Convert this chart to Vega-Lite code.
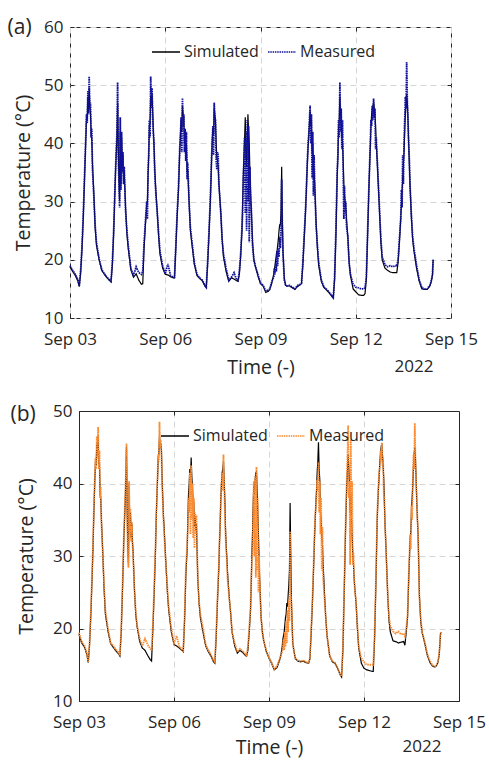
{
  "$schema": "https://vega.github.io/schema/vega-lite/v6.json",
  "background": "white",
  "padding": {"left": 7, "right": 2, "top": 16, "bottom": 7},
  "config": {
    "font": "Open Sans",
    "view": {"stroke": "#262626", "strokeWidth": 1},
    "axis": {
      "labelFont": "Open Sans", "labelFontSize": 17, "labelColor": "#262626", "labelFlush": false,
      "titleFont": "Open Sans", "titleFontSize": 19.5, "titleFontWeight": "normal", "titleColor": "#262626",
      "domain": false, "domainColor": "#262626", "tickColor": "#262626", "tickSize": -4,
      "gridColor": "#d6d6d6", "gridDash": [6, 4], "gridWidth": 1
    },
    "legend": {"labelFont": "Open Sans", "labelFontSize": 16, "labelColor": "#262626"},
    "concat": {"spacing": 25}
  },
  "resolve": {"scale": {"color": "independent", "strokeDash": "independent"}},
  "datasets": {
    "temps": [
      {"time":"2022-09-03T00:00","simA":18.8,"measA":19.0,"simB":19.2,"measB":19.4},
      {"time":"2022-09-03T02:00","simA":18.0,"measA":18.2,"simB":18.0,"measB":18.2},
      {"time":"2022-09-03T04:00","simA":17.3,"measA":17.5,"simB":17.5,"measB":17.7},
      {"time":"2022-09-03T06:00","simA":16.3,"measA":16.6,"simB":16.4,"measB":16.6},
      {"time":"2022-09-03T07:00","simA":15.4,"measA":15.5,"simB":15.3,"measB":15.4},
      {"time":"2022-09-03T08:00","simA":17.6,"measA":18.0,"simB":17.8,"measB":18.0},
      {"time":"2022-09-03T09:00","simA":21.5,"measA":22.0,"simB":22.0,"measB":22.5},
      {"time":"2022-09-03T10:00","simA":27.0,"measA":27.5,"simB":27.5,"measB":28.0},
      {"time":"2022-09-03T10:30","simA":30.5,"measA":31.0,"simB":30.5,"measB":31.0},
      {"time":"2022-09-03T11:00","simA":34.0,"measA":34.5,"simB":34.0,"measB":35.0},
      {"time":"2022-09-03T11:30","simA":37.5,"measA":38.0,"simB":37.5,"measB":38.0},
      {"time":"2022-09-03T12:00","simA":41.0,"measA":41.5,"simB":40.5,"measB":41.0},
      {"time":"2022-09-03T12:30","simA":44.5,"measA":45.0,"simB":43.0,"measB":43.5},
      {"time":"2022-09-03T13:00","simA":44.0,"measA":43.5,"simB":42.5,"measB":42.0},
      {"time":"2022-09-03T13:30","simA":48.0,"measA":49.0,"simB":45.5,"measB":46.5},
      {"time":"2022-09-03T14:00","simA":45.5,"measA":45.0,"simB":44.0,"measB":43.5},
      {"time":"2022-09-03T14:30","simA":49.5,"measA":51.5,"simB":46.5,"measB":47.8},
      {"time":"2022-09-03T15:00","simA":46.5,"measA":46.0,"simB":42.5,"measB":42.0},
      {"time":"2022-09-03T15:30","simA":45.0,"measA":47.0,"simB":43.0,"measB":44.5},
      {"time":"2022-09-03T16:00","simA":41.5,"measA":41.0,"simB":38.5,"measB":38.0},
      {"time":"2022-09-03T16:30","simA":40.5,"measA":42.5,"simB":38.0,"measB":39.5},
      {"time":"2022-09-03T17:00","simA":36.5,"measA":35.5,"simB":35.0,"measB":34.5},
      {"time":"2022-09-03T18:00","simA":31.5,"measA":31.0,"simB":30.5,"measB":30.5},
      {"time":"2022-09-03T19:00","simA":25.5,"measA":26.0,"simB":25.5,"measB":26.0},
      {"time":"2022-09-03T20:00","simA":22.5,"measA":23.0,"simB":22.0,"measB":22.5},
      {"time":"2022-09-03T22:00","simA":20.0,"measA":20.2,"simB":19.6,"measB":20.0},
      {"time":"2022-09-04T00:00","simA":18.2,"measA":18.3,"simB":17.9,"measB":18.0},
      {"time":"2022-09-04T02:00","simA":17.5,"measA":17.6,"simB":17.4,"measB":17.6},
      {"time":"2022-09-04T04:00","simA":16.9,"measA":17.0,"simB":16.9,"measB":17.1},
      {"time":"2022-09-04T06:00","simA":16.4,"measA":16.5,"simB":16.5,"measB":16.7},
      {"time":"2022-09-04T07:00","simA":16.2,"measA":16.3,"simB":16.2,"measB":16.3},
      {"time":"2022-09-04T08:00","simA":19.0,"measA":19.5,"simB":19.5,"measB":20.0},
      {"time":"2022-09-04T09:00","simA":24.5,"measA":25.0,"simB":25.5,"measB":26.0},
      {"time":"2022-09-04T10:00","simA":32.0,"measA":32.5,"simB":32.5,"measB":33.0},
      {"time":"2022-09-04T10:30","simA":35.5,"measA":36.0,"simB":35.0,"measB":35.5},
      {"time":"2022-09-04T11:00","simA":38.5,"measA":39.0,"simB":37.5,"measB":38.0},
      {"time":"2022-09-04T11:30","simA":41.0,"measA":42.0,"simB":40.5,"measB":41.0},
      {"time":"2022-09-04T12:00","simA":47.0,"measA":50.5,"simB":45.0,"measB":45.5},
      {"time":"2022-09-04T12:30","simA":39.0,"measA":38.0,"simB":36.5,"measB":36.0},
      {"time":"2022-09-04T13:00","simA":34.0,"measA":33.0,"simB":31.0,"measB":30.0},
      {"time":"2022-09-04T13:30","simA":30.0,"measA":29.0,"simB":29.0,"measB":28.4},
      {"time":"2022-09-04T14:00","simA":42.0,"measA":44.5,"simB":40.0,"measB":40.3},
      {"time":"2022-09-04T14:30","simA":33.0,"measA":32.0,"simB":33.5,"measB":33.3},
      {"time":"2022-09-04T15:00","simA":41.0,"measA":42.0,"simB":36.0,"measB":36.5},
      {"time":"2022-09-04T15:30","simA":36.0,"measA":35.0,"simB":32.5,"measB":32.0},
      {"time":"2022-09-04T16:00","simA":38.0,"measA":38.5,"simB":34.5,"measB":34.7},
      {"time":"2022-09-04T16:30","simA":33.5,"measA":33.0,"simB":32.0,"measB":32.0},
      {"time":"2022-09-04T17:00","simA":35.0,"measA":36.0,"simB":30.5,"measB":30.0},
      {"time":"2022-09-04T18:00","simA":29.0,"measA":28.5,"simB":25.5,"measB":25.5},
      {"time":"2022-09-04T19:00","simA":24.5,"measA":25.0,"simB":22.0,"measB":22.5},
      {"time":"2022-09-04T20:00","simA":22.0,"measA":22.5,"simB":20.3,"measB":20.5},
      {"time":"2022-09-04T22:00","simA":18.3,"measA":18.5,"simB":18.2,"measB":18.6},
      {"time":"2022-09-05T00:00","simA":17.0,"measA":17.3,"simB":17.3,"measB":17.6},
      {"time":"2022-09-05T02:00","simA":17.6,"measA":18.8,"simB":17.0,"measB":18.6},
      {"time":"2022-09-05T04:00","simA":16.5,"measA":17.8,"simB":16.3,"measB":17.8},
      {"time":"2022-09-05T06:00","simA":15.8,"measA":17.5,"simB":15.7,"measB":17.2},
      {"time":"2022-09-05T07:00","simA":15.9,"measA":18.0,"simB":15.5,"measB":17.0},
      {"time":"2022-09-05T08:00","simA":22.0,"measA":23.0,"simB":20.0,"measB":20.5},
      {"time":"2022-09-05T09:00","simA":26.0,"measA":26.5,"simB":25.0,"measB":26.0},
      {"time":"2022-09-05T10:00","simA":29.5,"measA":30.0,"simB":31.0,"measB":31.5},
      {"time":"2022-09-05T10:30","simA":30.0,"measA":27.0,"simB":35.0,"measB":35.5},
      {"time":"2022-09-05T11:00","simA":34.5,"measA":35.0,"simB":38.0,"measB":38.0},
      {"time":"2022-09-05T11:30","simA":38.0,"measA":38.0,"simB":40.5,"measB":41.0},
      {"time":"2022-09-05T12:00","simA":43.0,"measA":44.0,"simB":43.5,"measB":44.0},
      {"time":"2022-09-05T12:30","simA":43.5,"measA":41.0,"simB":44.0,"measB":43.0},
      {"time":"2022-09-05T13:00","simA":48.0,"measA":51.5,"simB":46.5,"measB":48.5},
      {"time":"2022-09-05T13:30","simA":47.0,"measA":46.0,"simB":45.0,"measB":45.0},
      {"time":"2022-09-05T14:00","simA":48.5,"measA":49.5,"simB":45.5,"measB":46.0},
      {"time":"2022-09-05T14:30","simA":45.5,"measA":45.0,"simB":44.5,"measB":44.0},
      {"time":"2022-09-05T15:00","simA":42.0,"measA":42.0,"simB":40.5,"measB":40.0},
      {"time":"2022-09-05T15:30","simA":39.5,"measA":40.0,"simB":38.0,"measB":37.5},
      {"time":"2022-09-05T16:00","simA":36.0,"measA":35.5,"simB":35.5,"measB":35.0},
      {"time":"2022-09-05T16:30","simA":33.5,"measA":33.0,"simB":34.0,"measB":33.3},
      {"time":"2022-09-05T17:00","simA":31.5,"measA":31.0,"simB":32.0,"measB":31.5},
      {"time":"2022-09-05T18:00","simA":28.0,"measA":28.0,"simB":28.5,"measB":28.5},
      {"time":"2022-09-05T19:00","simA":24.0,"measA":24.5,"simB":25.0,"measB":25.5},
      {"time":"2022-09-05T20:00","simA":21.0,"measA":21.5,"simB":22.5,"measB":23.0},
      {"time":"2022-09-05T22:00","simA":18.6,"measA":19.0,"simB":19.5,"measB":20.0},
      {"time":"2022-09-06T00:00","simA":17.5,"measA":17.6,"simB":17.8,"measB":18.0},
      {"time":"2022-09-06T02:00","simA":17.4,"measA":19.3,"simB":17.6,"measB":19.0},
      {"time":"2022-09-06T04:00","simA":17.1,"measA":17.3,"simB":17.3,"measB":17.5},
      {"time":"2022-09-06T06:00","simA":16.9,"measA":17.0,"simB":17.0,"measB":17.2},
      {"time":"2022-09-06T07:00","simA":16.9,"measA":17.0,"simB":16.8,"measB":16.8},
      {"time":"2022-09-06T08:00","simA":22.0,"measA":22.5,"simB":21.0,"measB":21.5},
      {"time":"2022-09-06T09:00","simA":27.5,"measA":28.0,"simB":27.5,"measB":28.5},
      {"time":"2022-09-06T10:00","simA":32.0,"measA":32.5,"simB":31.0,"measB":31.5},
      {"time":"2022-09-06T10:30","simA":35.5,"measA":36.0,"simB":35.0,"measB":34.0},
      {"time":"2022-09-06T11:00","simA":39.0,"measA":39.5,"simB":38.5,"measB":38.0},
      {"time":"2022-09-06T11:30","simA":41.5,"measA":41.5,"simB":40.0,"measB":36.0},
      {"time":"2022-09-06T12:00","simA":44.0,"measA":44.5,"simB":42.0,"measB":41.5},
      {"time":"2022-09-06T12:30","simA":42.0,"measA":38.5,"simB":40.5,"measB":33.0},
      {"time":"2022-09-06T13:00","simA":46.5,"measA":47.8,"simB":43.6,"measB":42.5},
      {"time":"2022-09-06T13:30","simA":45.0,"measA":43.0,"simB":41.0,"measB":35.0},
      {"time":"2022-09-06T14:00","simA":44.5,"measA":45.0,"simB":39.5,"measB":40.0},
      {"time":"2022-09-06T14:30","simA":40.0,"measA":38.5,"simB":37.0,"measB":32.5},
      {"time":"2022-09-06T15:00","simA":41.5,"measA":42.5,"simB":37.5,"measB":38.0},
      {"time":"2022-09-06T15:30","simA":38.5,"measA":37.0,"simB":34.0,"measB":31.1},
      {"time":"2022-09-06T16:00","simA":40.0,"measA":42.0,"simB":35.5,"measB":36.0},
      {"time":"2022-09-06T16:30","simA":35.0,"measA":33.8,"simB":33.5,"measB":33.0},
      {"time":"2022-09-06T17:00","simA":35.5,"measA":36.7,"simB":34.5,"measB":35.7},
      {"time":"2022-09-06T18:00","simA":30.0,"measA":30.0,"simB":27.0,"measB":27.0},
      {"time":"2022-09-06T19:00","simA":25.0,"measA":25.5,"simB":23.5,"measB":23.7},
      {"time":"2022-09-06T20:00","simA":23.0,"measA":23.5,"simB":21.5,"measB":22.0},
      {"time":"2022-09-06T22:00","simA":19.2,"measA":19.5,"simB":19.5,"measB":20.0},
      {"time":"2022-09-07T00:00","simA":17.3,"measA":17.5,"simB":17.6,"measB":17.8},
      {"time":"2022-09-07T02:00","simA":16.8,"measA":16.9,"simB":16.8,"measB":17.0},
      {"time":"2022-09-07T04:00","simA":16.4,"measA":16.5,"simB":16.2,"measB":16.4},
      {"time":"2022-09-07T06:00","simA":15.5,"measA":15.6,"simB":15.4,"measB":15.6},
      {"time":"2022-09-07T07:00","simA":15.2,"measA":15.3,"simB":15.2,"measB":15.4},
      {"time":"2022-09-07T08:00","simA":19.0,"measA":19.5,"simB":19.0,"measB":19.5},
      {"time":"2022-09-07T09:00","simA":24.0,"measA":24.5,"simB":24.0,"measB":24.5},
      {"time":"2022-09-07T10:00","simA":29.5,"measA":30.0,"simB":28.5,"measB":28.8},
      {"time":"2022-09-07T10:30","simA":33.0,"measA":33.5,"simB":32.0,"measB":32.0},
      {"time":"2022-09-07T11:00","simA":37.0,"measA":37.5,"simB":34.5,"measB":34.5},
      {"time":"2022-09-07T11:30","simA":40.5,"measA":40.0,"simB":38.0,"measB":38.0},
      {"time":"2022-09-07T12:00","simA":42.5,"measA":43.0,"simB":40.0,"measB":40.0},
      {"time":"2022-09-07T12:30","simA":41.5,"measA":38.0,"simB":41.5,"measB":41.5},
      {"time":"2022-09-07T13:00","simA":46.0,"measA":47.0,"simB":42.0,"measB":39.0},
      {"time":"2022-09-07T13:30","simA":45.0,"measA":44.5,"simB":43.0,"measB":44.0},
      {"time":"2022-09-07T14:00","simA":43.5,"measA":44.0,"simB":40.5,"measB":40.0},
      {"time":"2022-09-07T14:30","simA":40.0,"measA":37.0,"simB":38.0,"measB":36.5},
      {"time":"2022-09-07T15:00","simA":37.5,"measA":35.5,"simB":34.0,"measB":33.0},
      {"time":"2022-09-07T15:30","simA":37.0,"measA":38.5,"simB":31.5,"measB":31.0},
      {"time":"2022-09-07T16:00","simA":36.0,"measA":38.0,"simB":30.0,"measB":29.5},
      {"time":"2022-09-07T16:30","simA":33.5,"measA":33.0,"simB":28.0,"measB":27.0},
      {"time":"2022-09-07T17:00","simA":31.5,"measA":31.5,"simB":26.5,"measB":26.0},
      {"time":"2022-09-07T18:00","simA":28.0,"measA":28.0,"simB":24.0,"measB":24.0},
      {"time":"2022-09-07T19:00","simA":23.5,"measA":23.5,"simB":22.0,"measB":22.0},
      {"time":"2022-09-07T20:00","simA":20.5,"measA":21.0,"simB":19.5,"measB":19.5},
      {"time":"2022-09-07T22:00","simA":18.0,"measA":18.5,"simB":17.6,"measB":18.0},
      {"time":"2022-09-08T00:00","simA":16.3,"measA":16.5,"simB":16.6,"measB":16.8},
      {"time":"2022-09-08T02:00","simA":16.9,"measA":17.0,"simB":17.0,"measB":17.2},
      {"time":"2022-09-08T04:00","simA":16.7,"measA":17.8,"simB":16.7,"measB":16.9},
      {"time":"2022-09-08T06:00","simA":16.4,"measA":16.5,"simB":16.3,"measB":16.5},
      {"time":"2022-09-08T07:00","simA":16.3,"measA":16.4,"simB":16.2,"measB":16.3},
      {"time":"2022-09-08T08:00","simA":17.5,"measA":18.0,"simB":17.0,"measB":17.5},
      {"time":"2022-09-08T09:00","simA":20.5,"measA":21.0,"simB":19.5,"measB":20.0},
      {"time":"2022-09-08T10:00","simA":25.0,"measA":25.5,"simB":22.5,"measB":23.0},
      {"time":"2022-09-08T10:30","simA":30.0,"measA":28.0,"simB":26.0,"measB":26.0},
      {"time":"2022-09-08T11:00","simA":34.5,"measA":34.0,"simB":30.0,"measB":29.0},
      {"time":"2022-09-08T11:30","simA":38.0,"measA":37.0,"simB":33.0,"measB":31.0},
      {"time":"2022-09-08T12:00","simA":41.0,"measA":41.0,"simB":37.0,"measB":36.0},
      {"time":"2022-09-08T12:30","simA":44.5,"measA":28.0,"simB":40.0,"measB":40.3},
      {"time":"2022-09-08T13:00","simA":38.0,"measA":42.0,"simB":38.5,"measB":30.0},
      {"time":"2022-09-08T13:30","simA":36.0,"measA":25.0,"simB":40.5,"measB":41.0},
      {"time":"2022-09-08T14:00","simA":40.0,"measA":44.0,"simB":41.5,"measB":27.0},
      {"time":"2022-09-08T14:30","simA":45.0,"measA":30.0,"simB":41.6,"measB":42.3},
      {"time":"2022-09-08T15:00","simA":42.0,"measA":43.0,"simB":39.0,"measB":28.0},
      {"time":"2022-09-08T15:30","simA":40.0,"measA":23.0,"simB":36.0,"measB":38.0},
      {"time":"2022-09-08T16:00","simA":35.0,"measA":36.0,"simB":33.0,"measB":25.0},
      {"time":"2022-09-08T16:30","simA":32.0,"measA":30.0,"simB":29.0,"measB":30.0},
      {"time":"2022-09-08T17:00","simA":29.0,"measA":29.0,"simB":26.5,"measB":26.5},
      {"time":"2022-09-08T18:00","simA":23.0,"measA":22.4,"simB":21.5,"measB":21.5},
      {"time":"2022-09-08T19:00","simA":20.0,"measA":20.0,"simB":19.5,"measB":19.5},
      {"time":"2022-09-08T20:00","simA":19.0,"measA":19.0,"simB":18.3,"measB":18.3},
      {"time":"2022-09-08T22:00","simA":17.3,"measA":17.5,"simB":16.8,"measB":17.0},
      {"time":"2022-09-09T00:00","simA":15.9,"measA":16.0,"simB":15.9,"measB":16.0},
      {"time":"2022-09-09T02:00","simA":15.5,"measA":15.6,"simB":15.2,"measB":15.3},
      {"time":"2022-09-09T04:00","simA":14.4,"measA":14.6,"simB":14.3,"measB":14.4},
      {"time":"2022-09-09T06:00","simA":14.6,"measA":14.8,"simB":14.6,"measB":14.8},
      {"time":"2022-09-09T07:00","simA":14.9,"measA":15.0,"simB":15.1,"measB":15.3},
      {"time":"2022-09-09T08:00","simA":15.6,"measA":15.8,"simB":15.6,"measB":15.8},
      {"time":"2022-09-09T09:00","simA":16.5,"measA":16.5,"simB":16.3,"measB":16.3},
      {"time":"2022-09-09T10:00","simA":17.5,"measA":17.0,"simB":17.5,"measB":16.8},
      {"time":"2022-09-09T10:30","simA":18.5,"measA":18.5,"simB":18.5,"measB":17.5},
      {"time":"2022-09-09T11:00","simA":19.0,"measA":17.5,"simB":19.0,"measB":18.5},
      {"time":"2022-09-09T11:30","simA":20.0,"measA":19.5,"simB":19.5,"measB":17.0},
      {"time":"2022-09-09T12:00","simA":21.0,"measA":18.0,"simB":20.5,"measB":19.5},
      {"time":"2022-09-09T12:30","simA":21.5,"measA":21.5,"simB":21.5,"measB":17.5},
      {"time":"2022-09-09T13:00","simA":22.5,"measA":19.0,"simB":22.0,"measB":21.0},
      {"time":"2022-09-09T13:30","simA":23.5,"measA":22.0,"simB":23.5,"measB":18.0},
      {"time":"2022-09-09T14:00","simA":25.0,"measA":20.5,"simB":23.0,"measB":22.5},
      {"time":"2022-09-09T14:30","simA":26.0,"measA":24.0,"simB":24.5,"measB":19.5},
      {"time":"2022-09-09T15:00","simA":26.0,"measA":22.0,"simB":26.0,"measB":24.0},
      {"time":"2022-09-09T15:30","simA":28.0,"measA":25.0,"simB":28.0,"measB":21.0},
      {"time":"2022-09-09T16:00","simA":36.0,"measA":33.8,"simB":37.3,"measB":33.4},
      {"time":"2022-09-09T16:30","simA":27.0,"measA":26.0,"simB":30.0,"measB":25.0},
      {"time":"2022-09-09T17:00","simA":21.5,"measA":21.0,"simB":23.7,"measB":23.7},
      {"time":"2022-09-09T18:00","simA":16.8,"measA":16.5,"simB":18.0,"measB":18.0},
      {"time":"2022-09-09T19:00","simA":15.6,"measA":15.6,"simB":16.8,"measB":16.8},
      {"time":"2022-09-09T20:00","simA":15.5,"measA":15.5,"simB":15.8,"measB":15.9},
      {"time":"2022-09-09T22:00","simA":15.5,"measA":15.6,"simB":15.5,"measB":15.6},
      {"time":"2022-09-10T00:00","simA":15.2,"measA":15.3,"simB":15.4,"measB":15.5},
      {"time":"2022-09-10T02:00","simA":14.9,"measA":15.0,"simB":15.5,"measB":15.6},
      {"time":"2022-09-10T04:00","simA":15.4,"measA":15.6,"simB":15.3,"measB":15.4},
      {"time":"2022-09-10T06:00","simA":15.7,"measA":15.8,"simB":15.2,"measB":15.3},
      {"time":"2022-09-10T07:00","simA":15.9,"measA":16.0,"simB":15.8,"measB":16.0},
      {"time":"2022-09-10T08:00","simA":19.0,"measA":19.5,"simB":19.5,"measB":20.0},
      {"time":"2022-09-10T09:00","simA":23.5,"measA":24.0,"simB":24.0,"measB":24.5},
      {"time":"2022-09-10T10:00","simA":28.0,"measA":28.5,"simB":29.5,"measB":30.0},
      {"time":"2022-09-10T10:30","simA":31.0,"measA":31.0,"simB":32.5,"measB":33.0},
      {"time":"2022-09-10T11:00","simA":34.0,"measA":34.5,"simB":35.0,"measB":35.5},
      {"time":"2022-09-10T11:30","simA":37.0,"measA":37.5,"simB":37.0,"measB":37.0},
      {"time":"2022-09-10T12:00","simA":39.5,"measA":40.0,"simB":39.0,"measB":38.0},
      {"time":"2022-09-10T12:30","simA":41.5,"measA":41.5,"simB":41.5,"measB":40.5},
      {"time":"2022-09-10T13:00","simA":43.5,"measA":44.0,"simB":43.0,"measB":39.0},
      {"time":"2022-09-10T13:30","simA":45.5,"measA":46.5,"simB":45.7,"measB":43.0},
      {"time":"2022-09-10T14:00","simA":43.0,"measA":40.0,"simB":42.0,"measB":36.0},
      {"time":"2022-09-10T14:30","simA":44.0,"measA":45.0,"simB":40.5,"measB":40.3},
      {"time":"2022-09-10T15:00","simA":38.4,"measA":34.0,"simB":36.0,"measB":33.0},
      {"time":"2022-09-10T15:30","simA":40.0,"measA":42.0,"simB":35.0,"measB":38.0},
      {"time":"2022-09-10T16:00","simA":36.0,"measA":31.0,"simB":33.0,"measB":28.0},
      {"time":"2022-09-10T16:30","simA":35.0,"measA":38.0,"simB":31.5,"measB":34.0},
      {"time":"2022-09-10T17:00","simA":33.0,"measA":32.7,"simB":29.0,"measB":27.0},
      {"time":"2022-09-10T18:00","simA":26.5,"measA":26.0,"simB":25.0,"measB":24.2},
      {"time":"2022-09-10T19:00","simA":22.0,"measA":22.5,"simB":21.5,"measB":21.5},
      {"time":"2022-09-10T20:00","simA":19.0,"measA":19.5,"simB":19.0,"measB":19.0},
      {"time":"2022-09-10T22:00","simA":16.3,"measA":16.5,"simB":16.2,"measB":16.3},
      {"time":"2022-09-11T00:00","simA":15.2,"measA":15.3,"simB":15.4,"measB":15.5},
      {"time":"2022-09-11T02:00","simA":14.8,"measA":14.9,"simB":15.2,"measB":15.3},
      {"time":"2022-09-11T04:00","simA":14.3,"measA":14.4,"simB":14.5,"measB":14.6},
      {"time":"2022-09-11T06:00","simA":13.7,"measA":13.8,"simB":13.6,"measB":13.7},
      {"time":"2022-09-11T07:00","simA":13.4,"measA":13.5,"simB":13.3,"measB":13.4},
      {"time":"2022-09-11T08:00","simA":16.5,"measA":17.0,"simB":17.0,"measB":17.3},
      {"time":"2022-09-11T09:00","simA":24.0,"measA":25.0,"simB":25.0,"measB":25.5},
      {"time":"2022-09-11T10:00","simA":34.5,"measA":35.5,"simB":33.5,"measB":34.0},
      {"time":"2022-09-11T10:30","simA":37.5,"measA":38.0,"simB":37.0,"measB":38.0},
      {"time":"2022-09-11T11:00","simA":42.5,"measA":44.0,"simB":40.0,"measB":41.0},
      {"time":"2022-09-11T11:30","simA":44.0,"measA":41.0,"simB":42.0,"measB":44.0},
      {"time":"2022-09-11T12:00","simA":48.0,"measA":50.5,"simB":44.0,"measB":48.0},
      {"time":"2022-09-11T12:30","simA":45.0,"measA":42.0,"simB":42.0,"measB":38.0},
      {"time":"2022-09-11T13:00","simA":44.5,"measA":46.0,"simB":40.0,"measB":40.3},
      {"time":"2022-09-11T13:30","simA":41.0,"measA":39.0,"simB":36.0,"measB":28.8},
      {"time":"2022-09-11T14:00","simA":40.0,"measA":44.0,"simB":38.5,"measB":46.0},
      {"time":"2022-09-11T14:30","simA":37.0,"measA":35.5,"simB":35.0,"measB":33.0},
      {"time":"2022-09-11T15:00","simA":33.0,"measA":27.0,"simB":33.0,"measB":40.3},
      {"time":"2022-09-11T15:30","simA":31.0,"measA":32.7,"simB":30.0,"measB":28.8},
      {"time":"2022-09-11T16:00","simA":30.0,"measA":28.0,"simB":29.0,"measB":30.5},
      {"time":"2022-09-11T16:30","simA":29.0,"measA":30.0,"simB":27.0,"measB":27.0},
      {"time":"2022-09-11T17:00","simA":27.0,"measA":25.8,"simB":25.6,"measB":25.6},
      {"time":"2022-09-11T18:00","simA":24.0,"measA":24.0,"simB":23.5,"measB":23.7},
      {"time":"2022-09-11T19:00","simA":19.5,"measA":19.5,"simB":20.0,"measB":20.5},
      {"time":"2022-09-11T20:00","simA":17.3,"measA":17.5,"simB":17.3,"measB":17.5},
      {"time":"2022-09-11T22:00","simA":15.0,"measA":15.8,"simB":15.2,"measB":15.9},
      {"time":"2022-09-12T00:00","simA":14.5,"measA":15.3,"simB":14.5,"measB":15.4},
      {"time":"2022-09-12T02:00","simA":14.0,"measA":15.2,"simB":14.3,"measB":15.0},
      {"time":"2022-09-12T04:00","simA":13.9,"measA":15.0,"simB":14.2,"measB":15.0},
      {"time":"2022-09-12T06:00","simA":13.9,"measA":15.0,"simB":14.1,"measB":15.0},
      {"time":"2022-09-12T07:00","simA":14.2,"measA":15.2,"simB":14.1,"measB":15.0},
      {"time":"2022-09-12T08:00","simA":16.6,"measA":17.0,"simB":18.5,"measB":19.0},
      {"time":"2022-09-12T09:00","simA":24.5,"measA":25.0,"simB":26.0,"measB":26.5},
      {"time":"2022-09-12T10:00","simA":32.7,"measA":33.0,"simB":35.0,"measB":35.5},
      {"time":"2022-09-12T10:30","simA":36.0,"measA":36.5,"simB":37.5,"measB":38.0},
      {"time":"2022-09-12T11:00","simA":39.5,"measA":40.0,"simB":39.5,"measB":40.0},
      {"time":"2022-09-12T11:30","simA":43.0,"measA":44.0,"simB":41.2,"measB":41.5},
      {"time":"2022-09-12T12:00","simA":45.0,"measA":43.0,"simB":43.0,"measB":42.0},
      {"time":"2022-09-12T12:30","simA":46.0,"measA":46.5,"simB":44.0,"measB":44.5},
      {"time":"2022-09-12T13:00","simA":46.5,"measA":44.0,"simB":45.0,"measB":43.0},
      {"time":"2022-09-12T13:30","simA":47.0,"measA":47.7,"simB":45.5,"measB":45.6},
      {"time":"2022-09-12T14:00","simA":46.0,"measA":44.5,"simB":44.0,"measB":42.5},
      {"time":"2022-09-12T14:30","simA":45.0,"measA":46.0,"simB":42.5,"measB":43.0},
      {"time":"2022-09-12T15:00","simA":43.0,"measA":39.0,"simB":40.5,"measB":38.5},
      {"time":"2022-09-12T15:30","simA":40.0,"measA":41.0,"simB":37.0,"measB":38.0},
      {"time":"2022-09-12T16:00","simA":38.0,"measA":38.4,"simB":34.0,"measB":34.0},
      {"time":"2022-09-12T16:30","simA":35.5,"measA":36.0,"simB":32.0,"measB":32.0},
      {"time":"2022-09-12T17:00","simA":33.0,"measA":33.5,"simB":29.5,"measB":29.5},
      {"time":"2022-09-12T18:00","simA":28.0,"measA":28.5,"simB":24.5,"measB":24.5},
      {"time":"2022-09-12T19:00","simA":23.0,"measA":23.5,"simB":21.0,"measB":21.5},
      {"time":"2022-09-12T20:00","simA":20.0,"measA":20.5,"simB":19.5,"measB":20.3},
      {"time":"2022-09-12T22:00","simA":18.6,"measA":19.2,"simB":18.3,"measB":19.6},
      {"time":"2022-09-13T00:00","simA":18.2,"measA":18.8,"simB":18.2,"measB":19.3},
      {"time":"2022-09-13T02:00","simA":17.9,"measA":19.0,"simB":18.0,"measB":19.6},
      {"time":"2022-09-13T04:00","simA":17.8,"measA":18.8,"simB":18.1,"measB":19.2},
      {"time":"2022-09-13T06:00","simA":17.8,"measA":19.0,"simB":18.2,"measB":19.3},
      {"time":"2022-09-13T07:00","simA":17.8,"measA":18.9,"simB":17.7,"measB":18.9},
      {"time":"2022-09-13T08:00","simA":19.5,"measA":20.0,"simB":19.5,"measB":20.0},
      {"time":"2022-09-13T09:00","simA":23.0,"measA":23.5,"simB":21.5,"measB":21.9},
      {"time":"2022-09-13T10:00","simA":27.0,"measA":27.0,"simB":27.5,"measB":28.0},
      {"time":"2022-09-13T10:30","simA":29.5,"measA":32.0,"simB":30.0,"measB":30.5},
      {"time":"2022-09-13T11:00","simA":31.5,"measA":29.0,"simB":32.5,"measB":33.0},
      {"time":"2022-09-13T11:30","simA":34.0,"measA":38.0,"simB":33.3,"measB":31.0},
      {"time":"2022-09-13T12:00","simA":36.5,"measA":33.0,"simB":36.5,"measB":37.0},
      {"time":"2022-09-13T12:30","simA":38.4,"measA":40.0,"simB":38.0,"measB":35.0},
      {"time":"2022-09-13T13:00","simA":42.0,"measA":44.0,"simB":40.0,"measB":40.3},
      {"time":"2022-09-13T13:30","simA":45.0,"measA":48.0,"simB":42.5,"measB":44.0},
      {"time":"2022-09-13T14:00","simA":46.5,"measA":46.0,"simB":44.0,"measB":42.0},
      {"time":"2022-09-13T14:30","simA":48.5,"measA":54.0,"simB":45.0,"measB":48.3},
      {"time":"2022-09-13T15:00","simA":47.0,"measA":47.0,"simB":43.5,"measB":43.0},
      {"time":"2022-09-13T15:30","simA":44.0,"measA":44.0,"simB":40.5,"measB":40.3},
      {"time":"2022-09-13T16:00","simA":40.0,"measA":40.0,"simB":37.5,"measB":38.0},
      {"time":"2022-09-13T16:30","simA":36.5,"measA":37.3,"simB":35.0,"measB":35.0},
      {"time":"2022-09-13T17:00","simA":33.0,"measA":33.0,"simB":33.0,"measB":33.3},
      {"time":"2022-09-13T18:00","simA":27.5,"measA":28.0,"simB":24.5,"measB":24.2},
      {"time":"2022-09-13T19:00","simA":23.5,"measA":24.0,"simB":21.0,"measB":21.5},
      {"time":"2022-09-13T20:00","simA":21.5,"measA":22.0,"simB":19.5,"measB":19.5},
      {"time":"2022-09-13T22:00","simA":18.5,"measA":19.0,"simB":18.0,"measB":18.2},
      {"time":"2022-09-14T00:00","simA":16.3,"measA":16.5,"simB":16.3,"measB":16.5},
      {"time":"2022-09-14T02:00","simA":15.0,"measA":15.2,"simB":15.3,"measB":15.5},
      {"time":"2022-09-14T04:00","simA":14.9,"measA":15.0,"simB":14.8,"measB":14.9},
      {"time":"2022-09-14T06:00","simA":14.9,"measA":15.0,"simB":14.7,"measB":14.8},
      {"time":"2022-09-14T07:00","simA":15.2,"measA":15.3,"simB":14.9,"measB":15.0},
      {"time":"2022-09-14T08:00","simA":15.5,"measA":15.6,"simB":15.3,"measB":15.4},
      {"time":"2022-09-14T09:00","simA":16.2,"measA":16.3,"simB":16.4,"measB":16.5},
      {"time":"2022-09-14T10:00","simA":17.3,"measA":17.5,"simB":19.3,"measB":19.3},
      {"time":"2022-09-14T10:30","simA":20.0,"measA":20.0,"simB":19.5,"measB":19.6}
    ]
  },
  "vconcat": [
    {
      "width": 381,
      "height": 291,
      "title": {"text": "(a)", "anchor": "start", "frame": "bounds", "fontSize": 21, "fontWeight": "normal", "color": "#262626", "offset": -20, "dx": -6},
      "data": {"name": "temps"},
      "layer": [
        {
          "mark": {"type": "line", "strokeWidth": 1.2},
          "encoding": {
            "x": {"field": "time", "type": "temporal",
              "scale": {"domain": [{"year": 2022, "month": "Sep", "date": 3}, {"year": 2022, "month": "Sep", "date": 15}]},
              "axis": {"values": [{"year": 2022, "month": "Sep", "date": 3}, {"year": 2022, "month": "Sep", "date": 6}, {"year": 2022, "month": "Sep", "date": 9}, {"year": 2022, "month": "Sep", "date": 12}, {"year": 2022, "month": "Sep", "date": 15}],
                "format": "%b %d", "title": "Time (-)", "grid": true, "labelPadding": 17, "titlePadding": 11}},
            "y": {"field": "simA", "type": "quantitative",
              "scale": {"domain": [10, 60], "nice": false},
              "axis": {"values": [10, 20, 30, 40, 50, 60], "title": "Temperature (°C)", "grid": true, "labelPadding": 11, "titlePadding": 10}},
            "color": {"datum": "Simulated", "type": "nominal",
              "scale": {"domain": ["Simulated", "Measured"], "range": ["#000000", "#10109c"]},
              "legend": {"orient": "none", "legendX": 81, "legendY": 10, "direction": "horizontal", "title": null, "symbolType": "stroke", "symbolSize": 784, "symbolStrokeWidth": 1.5, "labelOffset": 3, "columnPadding": 6}},
            "strokeDash": {"datum": "Simulated", "type": "nominal",
              "scale": {"domain": ["Simulated", "Measured"], "range": [[1, 0], [1.5, 0.8]]},
              "legend": {"orient": "none", "legendX": 81, "legendY": 10, "direction": "horizontal", "title": null, "symbolType": "stroke", "symbolSize": 784, "symbolStrokeWidth": 1.5, "labelOffset": 3, "columnPadding": 6}}
          }
        },
        {
          "mark": {"type": "line", "strokeWidth": 1.8},
          "encoding": {
            "x": {"field": "time", "type": "temporal",
              "axis": {"orient": "top", "labels": false, "title": null, "grid": false, "values": [{"year": 2022, "month": "Sep", "date": 6}, {"year": 2022, "month": "Sep", "date": 9}, {"year": 2022, "month": "Sep", "date": 12}]}},
            "y": {"field": "measA", "type": "quantitative",
              "axis": {"orient": "right", "labels": false, "title": null, "grid": false, "values": [20, 30, 40, 50]}},
            "color": {"datum": "Measured", "type": "nominal"},
            "strokeDash": {"datum": "Measured", "type": "nominal"}
          }
        },
        {
          "data": {"values": [{}]},
          "mark": {"type": "text", "fontSize": 17, "color": "#262626", "baseline": "middle", "align": "center", "font": "Open Sans"},
          "encoding": {
            "x": {"datum": {"year": 2022, "month": "Sep", "date": 13, "hours": 20}, "type": "temporal", "axis": null},
            "y": {"datum": 1.6, "type": "quantitative", "axis": null},
            "text": {"value": "2022"}
          }
        }
      ],
      "resolve": {"axis": {"x": "independent", "y": "independent"}}
    },
    {
      "width": 389,
      "height": 290,
      "view": {"stroke": null},
      "title": {"text": "(b)", "anchor": "start", "frame": "bounds", "fontSize": 21, "fontWeight": "normal", "color": "#262626", "offset": -23, "dx": -6},
      "data": {"name": "temps"},
      "layer": [
        {
          "mark": {"type": "line", "strokeWidth": 1.2},
          "encoding": {
            "x": {"field": "time", "type": "temporal",
              "scale": {"domain": [{"year": 2022, "month": "Sep", "date": 3}, {"year": 2022, "month": "Sep", "date": 15}], "range": [9, 389]},
              "axis": {"values": [{"year": 2022, "month": "Sep", "date": 3}, {"year": 2022, "month": "Sep", "date": 6}, {"year": 2022, "month": "Sep", "date": 9}, {"year": 2022, "month": "Sep", "date": 12}, {"year": 2022, "month": "Sep", "date": 15}],
                "format": "%b %d", "title": "Time (-)", "grid": true, "domain": true, "labelPadding": 17, "titlePadding": 8}},
            "y": {"field": "simB", "type": "quantitative",
              "scale": {"domain": [10, 50], "nice": false},
              "axis": {"values": [10, 20, 30, 40, 50], "title": "Temperature (°C)", "grid": true, "domain": true, "offset": -9, "labelPadding": 11, "titlePadding": 16}},
            "color": {"datum": "Simulated", "type": "nominal",
              "scale": {"domain": ["Simulated", "Measured"], "range": ["#000000", "#fa8b30"]},
              "legend": {"orient": "none", "legendX": 90, "legendY": 10, "direction": "horizontal", "title": null, "symbolType": "stroke", "symbolSize": 784, "symbolStrokeWidth": 1.5, "labelOffset": 3, "columnPadding": 6}},
            "strokeDash": {"datum": "Simulated", "type": "nominal",
              "scale": {"domain": ["Simulated", "Measured"], "range": [[1, 0], [1.5, 0.8]]},
              "legend": {"orient": "none", "legendX": 90, "legendY": 10, "direction": "horizontal", "title": null, "symbolType": "stroke", "symbolSize": 784, "symbolStrokeWidth": 1.5, "labelOffset": 3, "columnPadding": 6}}
          }
        },
        {
          "mark": {"type": "line", "strokeWidth": 1.8},
          "encoding": {
            "x": {"field": "time", "type": "temporal",
              "axis": {"orient": "top", "labels": false, "title": null, "grid": false, "domain": true, "values": [{"year": 2022, "month": "Sep", "date": 6}, {"year": 2022, "month": "Sep", "date": 9}, {"year": 2022, "month": "Sep", "date": 12}]}},
            "y": {"field": "measB", "type": "quantitative",
              "axis": {"orient": "right", "labels": false, "title": null, "grid": false, "domain": true, "values": [20, 30, 40]}},
            "color": {"datum": "Measured", "type": "nominal"},
            "strokeDash": {"datum": "Measured", "type": "nominal"}
          }
        },
        {
          "data": {"values": [{}]},
          "mark": {"type": "text", "fontSize": 17, "color": "#262626", "baseline": "middle", "align": "center", "font": "Open Sans"},
          "encoding": {
            "x": {"datum": {"year": 2022, "month": "Sep", "date": 13, "hours": 20}, "type": "temporal", "axis": null},
            "y": {"datum": 3.6, "type": "quantitative", "axis": null},
            "text": {"value": "2022"}
          }
        }
      ],
      "resolve": {"axis": {"x": "independent", "y": "independent"}}
    }
  ]
}
